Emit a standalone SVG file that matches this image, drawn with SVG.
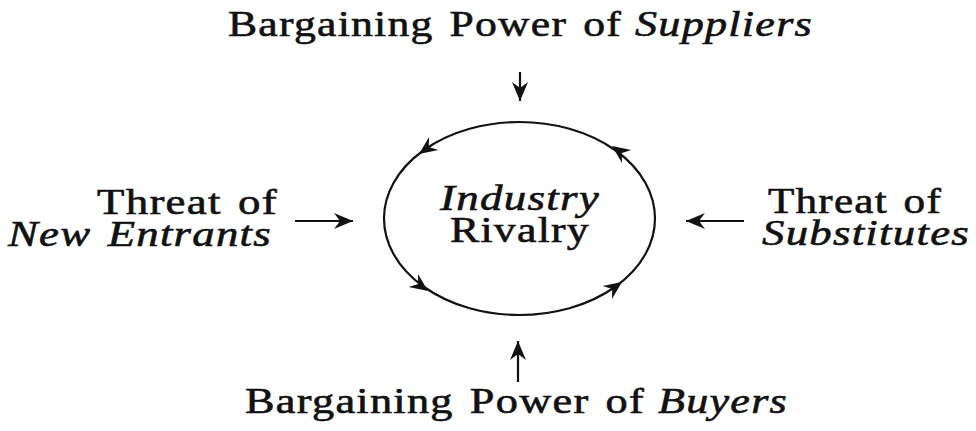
<svg xmlns="http://www.w3.org/2000/svg" width="976" height="431" viewBox="0 0 976 431">
<defs>
<style>
.t{font-family:"Liberation Serif","Times New Roman",serif;font-size:35px;fill:#111;stroke:#111;stroke-width:0.6;letter-spacing:1px;word-spacing:3px}
.i{font-style:italic}
.ln{stroke:#111;stroke-width:2.2;fill:none}
.ah{fill:#111}
</style>
<marker id="arr" markerUnits="userSpaceOnUse" markerWidth="22" markerHeight="16" refX="19" refY="8" orient="auto">
<path d="M0,0 L19,8 L0,16 L6,8 Z" fill="#111"/>
</marker>
<path id="head" d="M0,0 L-18,-8 L-12,0 L-18,8 Z"/>
</defs>
<rect width="976" height="431" fill="#fff"/>
<g id="rivalry">
<ellipse class="ln" cx="519.5" cy="218.5" rx="135.5" ry="96.5"/>
<use href="#head" class="ah" transform="translate(419,154) rotate(144.6)"/>
<use href="#head" class="ah" transform="translate(428,291) rotate(35.4)"/>
<use href="#head" class="ah" transform="translate(622,282) rotate(-35.4)"/>
<use href="#head" class="ah" transform="translate(612,146) rotate(-144.6)"/>
<text class="t i" x="440" y="210" textLength="160" lengthAdjust="spacingAndGlyphs">Industry</text>
<text class="t" x="450" y="242" textLength="140" lengthAdjust="spacingAndGlyphs">Rivalry</text>
</g>
<g id="suppliers">
<text class="t" x="228" y="36" textLength="394" lengthAdjust="spacingAndGlyphs">Bargaining Power of</text>
<text class="t i" x="635" y="36" textLength="178" lengthAdjust="spacingAndGlyphs">Suppliers</text>
</g>
<g id="entrants">
<text class="t" x="97" y="214" textLength="181" lengthAdjust="spacingAndGlyphs">Threat of</text>
<text class="t i" x="8" y="246" textLength="264" lengthAdjust="spacingAndGlyphs">New Entrants</text>
</g>
<g id="substitutes">
<text class="t" x="768" y="213" textLength="174" lengthAdjust="spacingAndGlyphs">Threat of</text>
<text class="t i" x="762" y="245" textLength="208" lengthAdjust="spacingAndGlyphs">Substitutes</text>
</g>
<g id="buyers">
<text class="t" x="245" y="413" textLength="400" lengthAdjust="spacingAndGlyphs">Bargaining Power of</text>
<text class="t i" x="658" y="413" textLength="130" lengthAdjust="spacingAndGlyphs">Buyers</text>
</g>
<g id="connectors">
<line class="ln" x1="520" y1="72" x2="520" y2="101" marker-end="url(#arr)"/>
<line class="ln" x1="295" y1="221" x2="353" y2="221" marker-end="url(#arr)"/>
<line class="ln" x1="744" y1="221" x2="686" y2="221" marker-end="url(#arr)"/>
<line class="ln" x1="518" y1="382" x2="518" y2="341" marker-end="url(#arr)"/>
</g>
</svg>
